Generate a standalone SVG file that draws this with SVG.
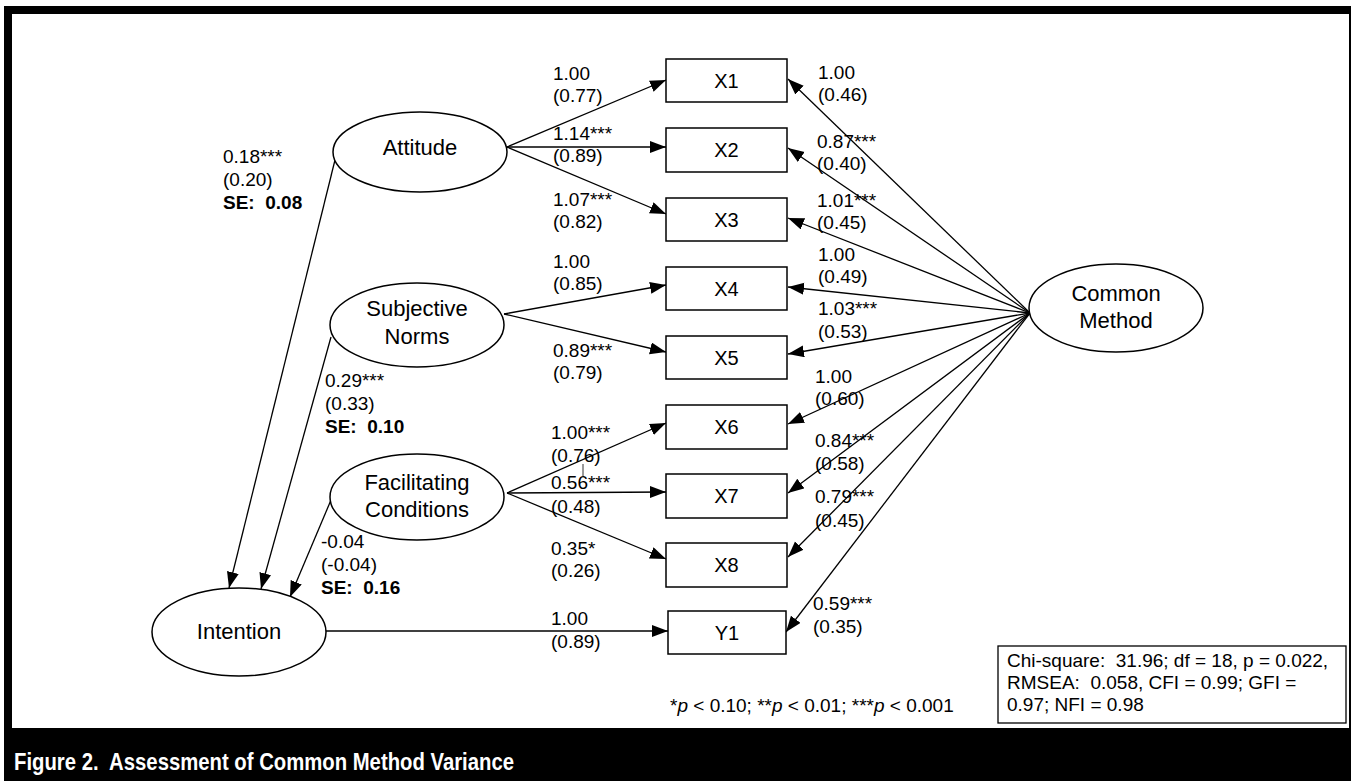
<svg xmlns="http://www.w3.org/2000/svg" width="1351" height="781" viewBox="0 0 1351 781">
  <defs>
    <marker id="arrow" markerUnits="userSpaceOnUse" markerWidth="17" markerHeight="13" refX="16" refY="6" orient="auto">
      <path d="M0,0 L16,6 L0,12 z" fill="#000"/>
    </marker>
    <style>
      .lat { fill: #fff; stroke: #000; stroke-width: 1.5; }
      .obs { fill: #fff; stroke: #000; stroke-width: 1.5; }
      .name { font-family: "Liberation Sans", Arial, sans-serif; font-size: 22px; fill: #000; text-anchor: middle; }
      .bname { font-family: "Liberation Sans", Arial, sans-serif; font-size: 20px; fill: #000; text-anchor: middle; }
      .lbl { font-family: "Liberation Sans", Arial, sans-serif; font-size: 19px; fill: #000; white-space: pre; }
      .se { font-weight: bold; }
      .edge { stroke: #000; stroke-width: 1.3; fill: none; marker-end: url(#arrow); }
      .caption { font-family: "Liberation Sans", Arial, sans-serif; font-size: 24px; font-weight: bold; fill: #fff; white-space: pre; }
    </style>
  </defs>

  <!-- page frame -->
  <rect x="0" y="0" width="1351" height="781" fill="#fff"/>
  <rect x="4" y="6" width="1347" height="775" fill="#000"/>
  <rect x="12" y="14" width="1337" height="714" fill="#fff"/>

  <!-- connectors -->
  <g id="connectors">
    <!-- structural paths to Intention -->
    <line class="edge" x1="335" y1="160" x2="229" y2="588"/>
    <line class="edge" x1="331" y1="337" x2="261" y2="589"/>
    <line class="edge" x1="331" y1="500" x2="290" y2="597"/>
    <!-- Attitude indicators -->
    <line class="edge" x1="507" y1="147" x2="666" y2="80"/>
    <line class="edge" x1="507" y1="147" x2="666" y2="147"/>
    <line class="edge" x1="507" y1="147" x2="666" y2="214"/>
    <!-- Subjective Norms indicators -->
    <line class="edge" x1="504" y1="314" x2="666" y2="285"/>
    <line class="edge" x1="504" y1="314" x2="666" y2="352"/>
    <!-- Facilitating Conditions indicators -->
    <line class="edge" x1="507" y1="493" x2="666" y2="423"/>
    <line class="edge" x1="507" y1="493" x2="666" y2="492"/>
    <line class="edge" x1="507" y1="493" x2="666" y2="559"/>
    <!-- Intention indicator -->
    <line class="edge" x1="325" y1="631" x2="668" y2="631"/>
    <!-- Common Method loadings -->
    <line class="edge" x1="1030" y1="313" x2="788" y2="79"/>
    <line class="edge" x1="1030" y1="313" x2="788" y2="148"/>
    <line class="edge" x1="1030" y1="313" x2="788" y2="218"/>
    <line class="edge" x1="1030" y1="313" x2="788" y2="287"/>
    <line class="edge" x1="1030" y1="313" x2="788" y2="354"/>
    <line class="edge" x1="1030" y1="313" x2="788" y2="424"/>
    <line class="edge" x1="1030" y1="313" x2="788" y2="493"/>
    <line class="edge" x1="1030" y1="313" x2="788" y2="557"/>
    <line class="edge" x1="1030" y1="313" x2="786" y2="632"/>
  </g>

  <!-- latent constructs -->
  <g id="attitude">
    <ellipse class="lat" cx="420" cy="152" rx="87" ry="40"/>
    <text class="name" x="420" y="155">Attitude</text>
  </g>
  <g id="subjective-norms">
    <ellipse class="lat" cx="417" cy="325" rx="87" ry="42"/>
    <text class="name" x="417" y="316">Subjective</text>
    <text class="name" x="417" y="344">Norms</text>
  </g>
  <g id="facilitating-conditions">
    <ellipse class="lat" cx="417" cy="497" rx="87" ry="43"/>
    <text class="name" x="417" y="490">Facilitating</text>
    <text class="name" x="417" y="517">Conditions</text>
  </g>
  <g id="intention">
    <ellipse class="lat" cx="239" cy="632" rx="87" ry="44"/>
    <text class="name" x="239" y="639">Intention</text>
  </g>
  <g id="common-method">
    <ellipse class="lat" cx="1116" cy="308" rx="87" ry="44"/>
    <text class="name" x="1116" y="301">Common</text>
    <text class="name" x="1116" y="328">Method</text>
  </g>

  <!-- observed indicators -->
  <g id="x1"><rect class="obs" x="666" y="59" width="121" height="43"/><text class="bname" x="726.5" y="88">X1</text></g>
  <g id="x2"><rect class="obs" x="666" y="128" width="121" height="44"/><text class="bname" x="726.5" y="157">X2</text></g>
  <g id="x3"><rect class="obs" x="666" y="198" width="121" height="43"/><text class="bname" x="726.5" y="227">X3</text></g>
  <g id="x4"><rect class="obs" x="666" y="267" width="121" height="43"/><text class="bname" x="726.5" y="296">X4</text></g>
  <g id="x5"><rect class="obs" x="666" y="336" width="121" height="43"/><text class="bname" x="726.5" y="365">X5</text></g>
  <g id="x6"><rect class="obs" x="666" y="405" width="121" height="44"/><text class="bname" x="726.5" y="434">X6</text></g>
  <g id="x7"><rect class="obs" x="666" y="474" width="121" height="44"/><text class="bname" x="726.5" y="503">X7</text></g>
  <g id="x8"><rect class="obs" x="666" y="543" width="121" height="44"/><text class="bname" x="726.5" y="572">X8</text></g>
  <g id="y1"><rect class="obs" x="668" y="611" width="118" height="43"/><text class="bname" x="727" y="640">Y1</text></g>

  <!-- path coefficients -->
  <g id="labels">
    <text class="lbl" x="223" y="163">0.18***</text>
    <text class="lbl" x="223" y="186">(0.20)</text>
    <text class="lbl se" x="223" y="209">SE:  0.08</text>

    <text class="lbl" x="325" y="387">0.29***</text>
    <text class="lbl" x="325" y="410">(0.33)</text>
    <text class="lbl se" x="325" y="433">SE:  0.10</text>

    <text class="lbl" x="321" y="548">-0.04</text>
    <text class="lbl" x="321" y="571">(-0.04)</text>
    <text class="lbl se" x="321" y="594">SE:  0.16</text>

    <text class="lbl" x="553" y="80">1.00</text>
    <text class="lbl" x="553" y="102">(0.77)</text>
    <text class="lbl" x="553" y="140">1.14***</text>
    <text class="lbl" x="553" y="162">(0.89)</text>
    <text class="lbl" x="553" y="206">1.07***</text>
    <text class="lbl" x="553" y="228">(0.82)</text>
    <text class="lbl" x="553" y="268">1.00</text>
    <text class="lbl" x="553" y="290">(0.85)</text>
    <text class="lbl" x="553" y="357">0.89***</text>
    <text class="lbl" x="553" y="379">(0.79)</text>
    <text class="lbl" x="551" y="439">1.00***</text>
    <text class="lbl" x="551" y="462">(0.76)</text>
    <line x1="583" y1="464" x2="583" y2="476" stroke="#000" stroke-width="0.8"/>
    <text class="lbl" x="551" y="489">0.56***</text>
    <text class="lbl" x="551" y="513">(0.48)</text>
    <text class="lbl" x="551" y="555">0.35*</text>
    <text class="lbl" x="551" y="577">(0.26)</text>
    <text class="lbl" x="551" y="625">1.00</text>
    <text class="lbl" x="551" y="648">(0.89)</text>

    <text class="lbl" x="818" y="79">1.00</text>
    <text class="lbl" x="818" y="101">(0.46)</text>
    <text class="lbl" x="817" y="148">0.87***</text>
    <text class="lbl" x="817" y="170">(0.40)</text>
    <text class="lbl" x="817" y="207">1.01***</text>
    <text class="lbl" x="817" y="229">(0.45)</text>
    <text class="lbl" x="818" y="261">1.00</text>
    <text class="lbl" x="818" y="283">(0.49)</text>
    <text class="lbl" x="818" y="315">1.03***</text>
    <text class="lbl" x="818" y="338">(0.53)</text>
    <text class="lbl" x="815" y="383">1.00</text>
    <text class="lbl" x="815" y="405">(0.60)</text>
    <text class="lbl" x="815" y="447">0.84***</text>
    <text class="lbl" x="815" y="470">(0.58)</text>
    <text class="lbl" x="815" y="503">0.79***</text>
    <text class="lbl" x="815" y="527">(0.45)</text>
    <text class="lbl" x="813" y="610">0.59***</text>
    <text class="lbl" x="813" y="633">(0.35)</text>
  </g>

  <!-- significance note -->
  <text class="lbl" x="670" y="712">*<tspan font-style="italic">p</tspan> &lt; 0.10; **<tspan font-style="italic">p</tspan> &lt; 0.01; ***<tspan font-style="italic">p</tspan> &lt; 0.001</text>

  <!-- fit statistics -->
  <g id="fit-stats">
    <rect x="998" y="646" width="348" height="77" fill="#fff" stroke="#000" stroke-width="1.3"/>
    <text class="lbl" x="1007" y="667">Chi-square:  31.96; df = 18, p = 0.022,</text>
    <text class="lbl" x="1007" y="689">RMSEA:  0.058, CFI = 0.99; GFI =</text>
    <text class="lbl" x="1007" y="711">0.97; NFI = 0.98</text>
  </g>

  <!-- caption -->
  <text class="caption" x="14" y="770" textLength="500" lengthAdjust="spacingAndGlyphs">Figure 2.  Assessment of Common Method Variance</text>
</svg>
